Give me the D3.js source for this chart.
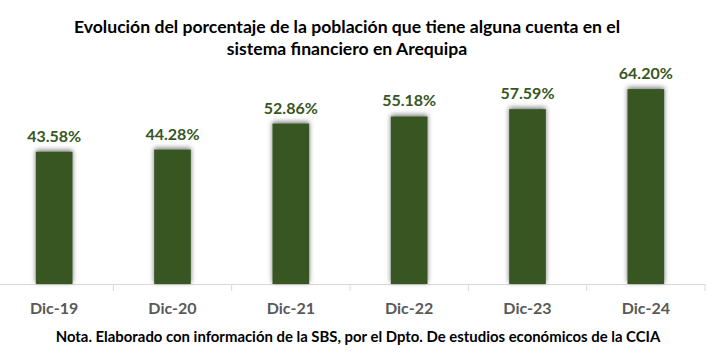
<!DOCTYPE html>
<html>
<head>
<meta charset="utf-8">
<script src="https://cdn.jsdelivr.net/npm/d3@7"></script>
<style>
  body { margin: 0; background: #fff; }
  svg { display: block; font-family: Lato, "Open Sans", sans-serif; }
</style>
</head>
<body>
<div id="chart"></div>
<script>
var svgWidth = 712;
var svgHeight = 364;

// data
var periods = ["Dic-19", "Dic-20", "Dic-21", "Dic-22", "Dic-23", "Dic-24"];
var shares = [43.58, 44.28, 52.86, 55.18, 57.59, 64.20];
var titleLines = [
  "Evolución del porcentaje de la población que tiene alguna cuenta en el",
  "sistema financiero en Arequipa"
];
var note = "Nota. Elaborado con información de la SBS, por el Dpto. De estudios económicos de la CCIA";

var baseY = 284;
var green = "#375623";

var svg = d3.select("#chart")
  .append("svg")
  .attr("width", svgWidth)
  .attr("height", svgHeight);

// soft shadow round the bars
var defs = svg.append("defs");
defs.append("filter")
  .attr("id", "glow")
  .attr("x", "-50%").attr("y", "-20%")
  .attr("width", "200%").attr("height", "140%")
  .append("feDropShadow")
  .attr("dx", 0)
  .attr("dy", -1.5)
  .attr("stdDeviation", 2.8)
  .attr("flood-color", "#000")
  .attr("flood-opacity", 0.55);

var xScale = d3.scaleBand()
  .domain(periods)
  .range([-5, 705])
  .padding(0);

var yScale = d3.scaleLinear()
  .domain([0, 70])
  .range([baseY, 71.5]);

var barW = xScale.bandwidth() * 0.31;

// title
svg.append("g")
  .selectAll("text")
  .data(titleLines)
  .enter()
  .append("text")
  .attr("x", 347)
  .attr("y", (d, i) => 33 + i * 22)
  .attr("text-anchor", "middle")
  .style("font-size", "17.6px")
  .style("font-weight", "bold")
  .style("fill", "#000")
  .text(d => d);

// axis
var xAxis = svg.append("g")
  .attr("transform", `translate(0, ${baseY})`)
  .call(d3.axisBottom(xScale).tickSize(0).tickPadding(0));

xAxis.select(".domain")
  .attr("stroke", "#d9d9d9")
  .attr("stroke-width", 1);

xAxis.selectAll(".tick text")
  .attr("dy", null)
  .attr("y", 30)
  .style("font-family", "Lato, sans-serif")
  .style("font-size", "16px")
  .style("font-weight", "bold")
  .style("fill", "#595959");

// category boundary ticks
xAxis.selectAll(".sep")
  .data(periods)
  .enter()
  .append("line")
  .attr("class", "sep")
  .attr("x1", d => xScale(d) + xScale.bandwidth())
  .attr("x2", d => xScale(d) + xScale.bandwidth())
  .attr("y1", 0)
  .attr("y2", 7)
  .attr("stroke", "#d9d9d9");

// bars
svg.append("g")
  .selectAll("rect")
  .data(shares)
  .enter()
  .append("rect")
  .attr("x", (d, i) => xScale(periods[i]) + (xScale.bandwidth() - barW) / 2)
  .attr("y", d => yScale(d))
  .attr("width", barW)
  .attr("height", d => baseY - yScale(d))
  .attr("fill", green)
  .attr("filter", "url(#glow)");

// value labels
svg.append("g")
  .selectAll("text")
  .data(shares)
  .enter()
  .append("text")
  .attr("x", (d, i) => xScale(periods[i]) + xScale.bandwidth() / 2)
  .attr("y", d => yScale(d) - 10)
  .attr("text-anchor", "middle")
  .style("font-size", "16px")
  .style("font-weight", "bold")
  .style("fill", green)
  .text(d => d.toFixed(2) + "%");

// note
svg.append("text")
  .attr("x", 358)
  .attr("y", 342)
  .attr("text-anchor", "middle")
  .style("font-size", "14.9px")
  .style("font-weight", "bold")
  .style("fill", "#000")
  .text(note);
</script>
</body>
</html>
